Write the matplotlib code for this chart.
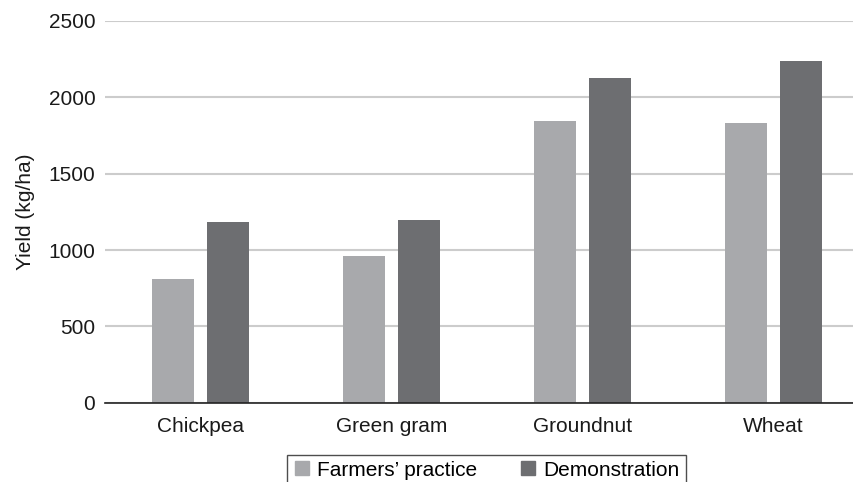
import matplotlib
matplotlib.use("Agg")
import matplotlib.pyplot as plt
import numpy as np
from matplotlib.lines import Line2D

categories = ["Chickpea", "Green gram", "Groundnut", "Wheat"]
farmers = [810, 961, 1844, 1832]
demonstration = [1183, 1196, 2126, 2238]
series_names = ["Farmers\u2019 practice", "Demonstration"]
yticks = [0, 500, 1000, 1500, 2000, 2500]

plt.rcParams['font.family'] = ['Liberation Sans', 'DejaVu Sans']

W, H = 854, 482
FS = 15
fig = plt.figure(figsize=(W/100, H/100), dpi=100)
ax_left = 105 / W
ax_bottom = (H - 402.7) / H
ax_top = (H - 21) / H
ax = fig.add_axes([ax_left, ax_bottom, 1 - ax_left, ax_top - ax_bottom])

light = "#a8a9ac"
dark = "#6d6e71"
x = np.arange(len(categories))
bw = 0.225
off = 0.144
ax.bar(x - off, farmers, bw, color=light, zorder=3)
ax.bar(x + off, demonstration, bw, color=dark, zorder=3)

ax.set_xlim(-0.5, -0.5 + (W - 105) / 191)
ax.set_ylim(0, 2500)
ax.set_yticks(yticks)
ax.set_xticks(x)
ax.set_xticklabels(categories)
ax.tick_params(axis='both', length=0, labelsize=FS, colors='#1a1a1a')
ax.tick_params(axis='x', pad=10)
ax.tick_params(axis='y', pad=7)
ax.yaxis.grid(True, color='#cccccc', linewidth=1.5, zorder=0)
ax.set_axisbelow(True)
for s in ['top', 'right', 'left']:
    ax.spines[s].set_visible(False)
ax.spines['bottom'].set_color('#222222')
ax.spines['bottom'].set_linewidth(1.2)
ax.spines['bottom'].set_zorder(4)
ax.set_ylabel("Yield (kg/ha)", fontsize=FS, color='#1a1a1a', labelpad=10)

handles = [Line2D([], [], marker='s', linestyle='none', markersize=10.5, color=light),
           Line2D([], [], marker='s', linestyle='none', markersize=10.5, color=dark)]
leg = fig.legend(handles, series_names, loc='upper center',
                 bbox_to_anchor=(486.5 / W, (H - 454.5) / H), ncol=2,
                 fontsize=FS, frameon=True, fancybox=False,
                 edgecolor='#222222', handletextpad=0.35, columnspacing=2.0,
                 handlelength=0.8, borderpad=0.3, borderaxespad=0)
leg.get_frame().set_linewidth(1.0)

fig.savefig("out.png", dpi=100)
